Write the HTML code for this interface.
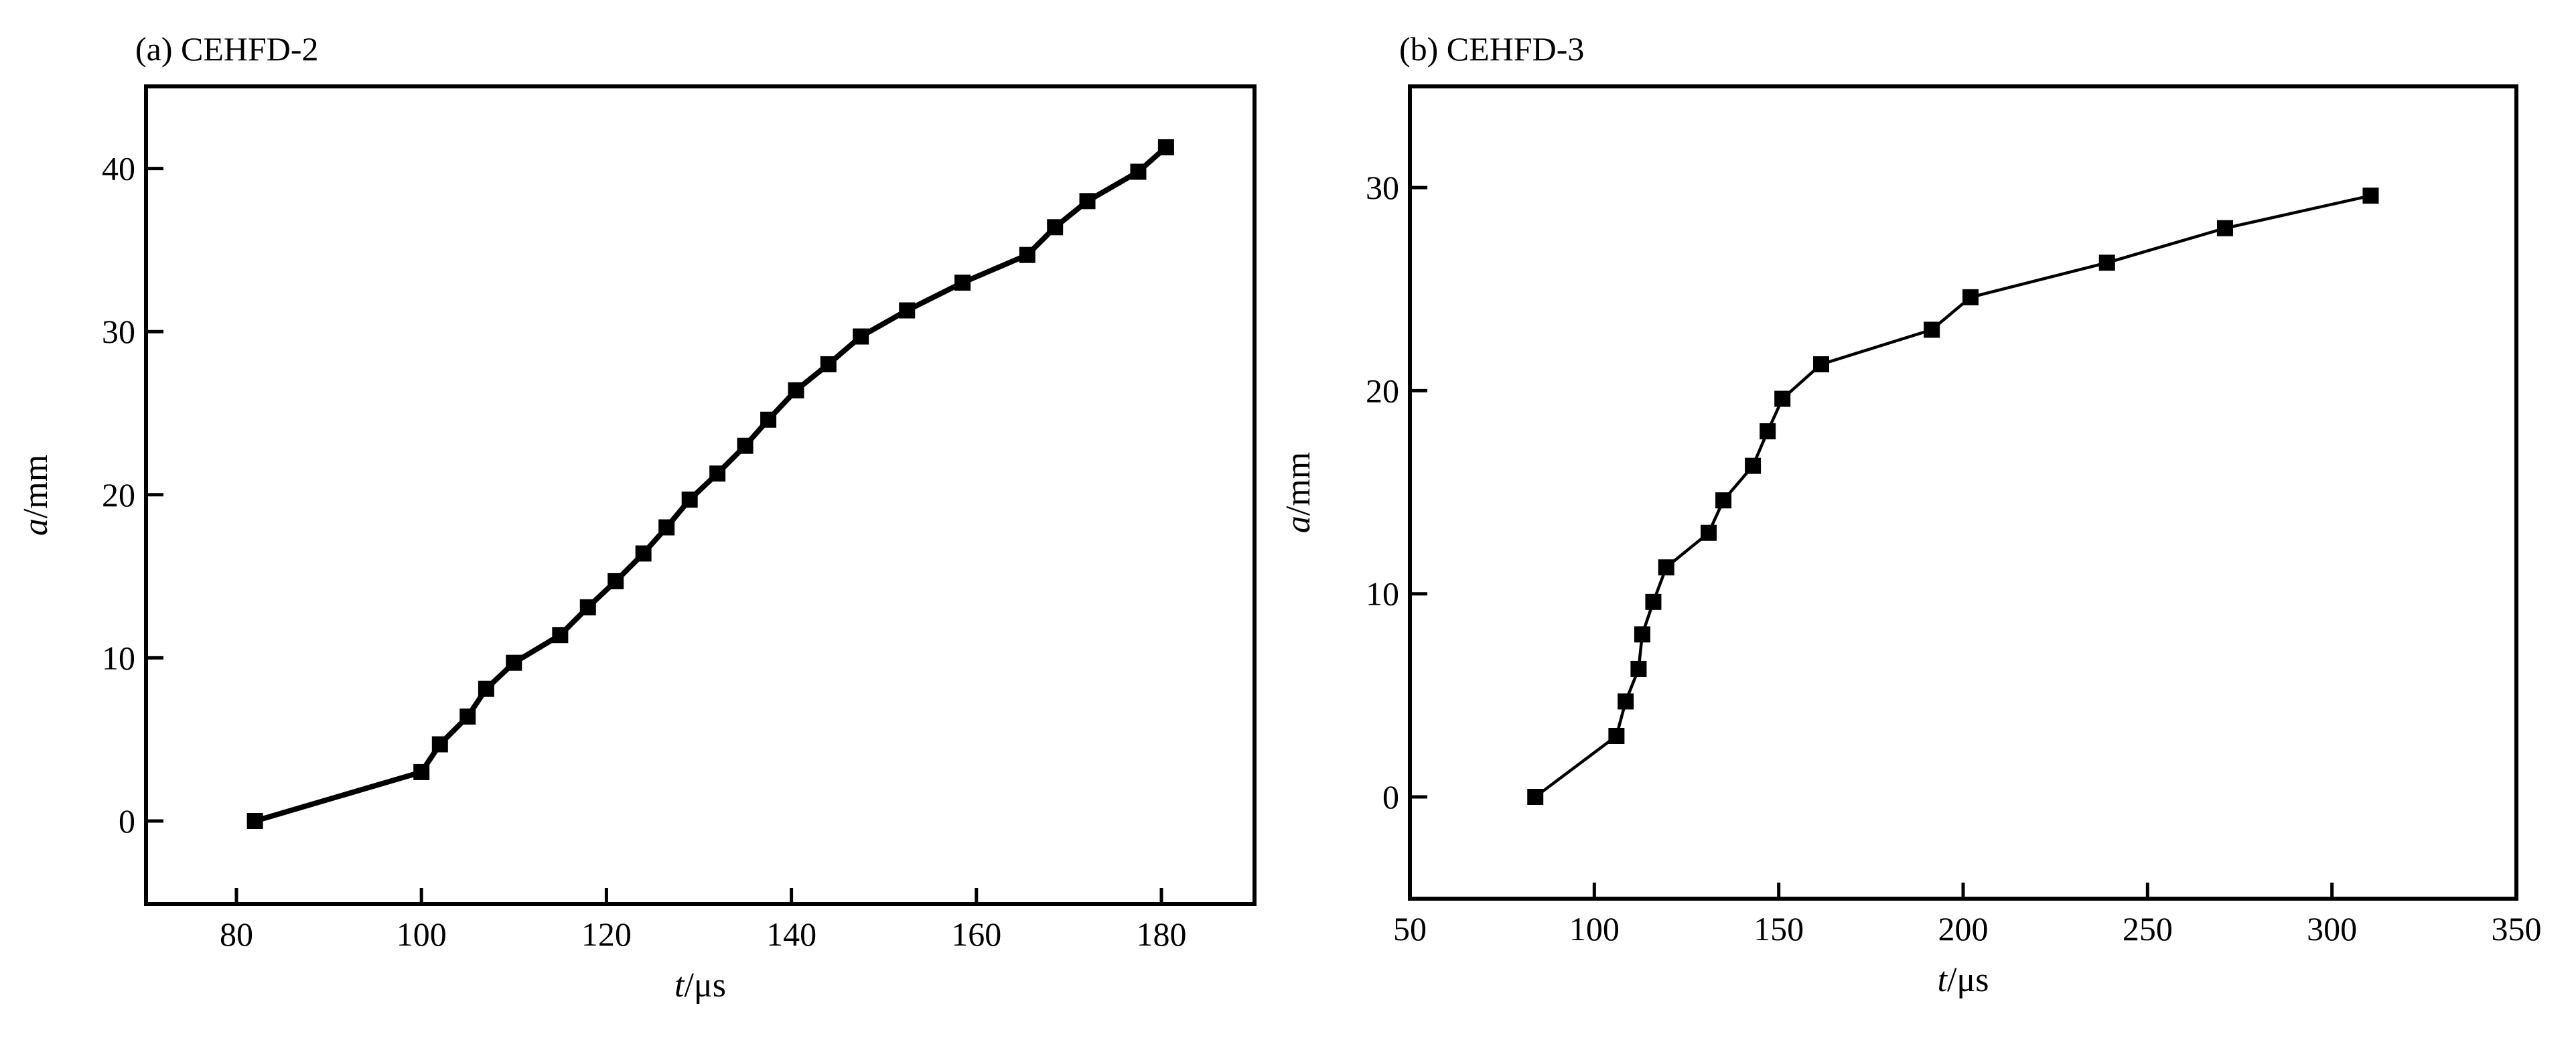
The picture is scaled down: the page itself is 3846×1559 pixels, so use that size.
<!DOCTYPE html>
<html><head><meta charset="utf-8"><style>
html,body{margin:0;padding:0;background:#fff;}
svg{display:block;}
text{font-family:"Liberation Serif",serif;fill:#000;}
</style></head><body>
<svg id="chart" width="3846" height="1559" viewBox="0 0 3846 1559" xmlns="http://www.w3.org/2000/svg"></svg>
<script>
// Panel (a) data
const tA = [82,100,102,105,107,110,115,118,121,124,126.5,129,132,135,137.5,140.5,144,147.5,152.5,158.5,165.5,168.5,172,177.5,180.5];
const aA = [0,3,4.7,6.4,8.1,9.7,11.4,13.1,14.7,16.4,18,19.7,21.3,23,24.6,26.4,28,29.7,31.3,33,34.7,36.4,38,39.8,41.3];
const xTicksA = [80,100,120,140,160,180];
const yTicksA = [0,10,20,30,40];
// Panel (b) data
const tB = [84,106,108.5,112,113,116,119.5,131,135,143,147,151,161.5,191.5,202,239,271,310.5];
const aB = [0,3,4.7,6.3,8,9.6,11.3,13,14.6,16.3,18,19.6,21.3,23,24.6,26.3,28,29.6];
const xTicksB = [50,100,150,200,250,300,350];
const yTicksB = [0,10,20,30];

const NS = "http://www.w3.org/2000/svg";
const svg = document.getElementById('chart');
function mk(tag, attrs, parent){
  const e = document.createElementNS(NS, tag);
  for (const k in attrs) e.setAttribute(k, attrs[k]);
  (parent||svg).appendChild(e);
  return e;
}

function panel(cfg){
  const g = mk('g', {});
  
  
  const {x0,x1,y0,y1,xmin,xmax,ymin,ymax} = cfg;
  const sx = v => x0 + (v - xmin) / (xmax - xmin) * (x1 - x0);
  const sy = v => y1 - (v - ymin) / (ymax - ymin) * (y1 - y0);
  const box = mk('rect', {x:x0, y:y0, width:x1-x0, height:y1-y0, fill:'none', stroke:'#000', 'stroke-width':6}, g);
  
  
  cfg.xt.forEach(v => {
    const X = sx(v);
    const tk = mk('line', {x1:X, x2:X, y1:y1, y2:y1-24, stroke:'#000', 'stroke-width':5}, g);
    
    
    const lb = mk('text', {x:X, y:y1+62, 'font-size':50, 'text-anchor':'middle'}, g);
    lb.textContent = v;
    
    
  });
  cfg.yt.forEach(v => {
    const Y = sy(v);
    const tk = mk('line', {x1:x0, x2:x0+26, y1:Y, y2:Y, stroke:'#000', 'stroke-width':5}, g);
    
    
    const lb = mk('text', {x:x0-16, y:Y+17, 'font-size':50, 'text-anchor':'end'}, g);
    lb.textContent = v;
    
    
  });
  const pts = cfg.xs.map((v,i) => sx(v)+','+sy(cfg.ys[i])).join(' ');
  const ln = mk('polyline', {points:pts, fill:'none', stroke:'#000', 'stroke-width':cfg.lw, 'stroke-linejoin':'round'}, g);
  
  
  cfg.xs.forEach((v,i) => {
    const m = mk('rect', {x:sx(v)-12, y:sy(cfg.ys[i])-12, width:24, height:24, fill:'#000'}, g);
    
    
  });
  const tt = mk('text', {x:cfg.tx, y:90, 'font-size':50}, g);
  tt.textContent = cfg.title;
  
  
  const xl = mk('text', {x:(x0+x1)/2, y:y1+138, 'font-size':52, 'text-anchor':'middle'}, g);
  xl.innerHTML = '<tspan font-style="italic">t</tspan>/μs';
  
  
  const yc = (y0+y1)/2;
  const yl = mk('text', {x:cfg.ylx, y:yc, 'font-size':52, 'text-anchor':'middle', transform:'rotate(-90 '+cfg.ylx+' '+yc+')'}, g);
  yl.innerHTML = '<tspan font-style="italic">a</tspan>/mm';
  
  
}

// y-range derived from tick pixel positions: (a) 0->1226, 40->1252-ish ; (b) 0->1190, 30->280
panel({name:'panel-a', x0:218, x1:1873, y0:129, y1:1350,
  xmin:80-(353-218)/13.81, xmax:80+(1873-353)/13.81,
  ymin:-(1350-1226)/24.36, ymax:(1226-129)/24.36,
  xt:xTicksA, yt:yTicksA, xs:tA, ys:aA, lw:8, title:'(a) CEHFD-2', tx:202, ylx:70});
panel({name:'panel-b', x0:2105, x1:3757, y0:129, y1:1342,
  xmin:50, xmax:350,
  ymin:-(1342-1190)/30.33, ymax:(1190-129)/30.33,
  xt:xTicksB, yt:yTicksB, xs:tB, ys:aB, lw:4.5, title:'(b) CEHFD-3', tx:2089, ylx:1955});
</script>
</body></html>
